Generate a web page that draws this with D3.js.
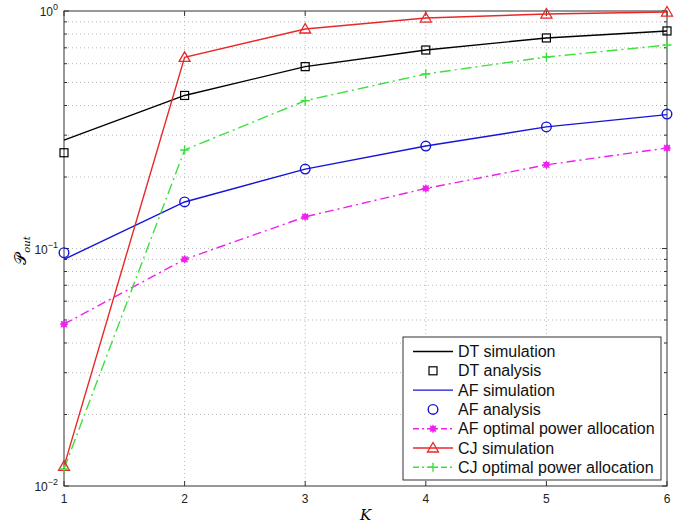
<!DOCTYPE html>
<html>
<head>
<meta charset="utf-8">
<script src="https://cdn.jsdelivr.net/npm/d3@7"></script>
<style>
  body { margin: 0; background: #fff; }
  svg { display: block; font-family: "Liberation Sans", Arial, sans-serif; }
</style>
</head>
<body>
<div id="chart"></div>
<script>
// K values on the x axis
const K = [1, 2, 3, 4, 5, 6];

// outage probability
const dtSimulation = [0.286, 0.441, 0.583, 0.685, 0.770, 0.824];
const dtAnalysis = [0.253, 0.441, 0.583, 0.685, 0.770, 0.824];
const afSimulation = [0.090, 0.157, 0.216, 0.270, 0.325, 0.366];
const afAnalysis = [0.096, 0.157, 0.216, 0.270, 0.325, 0.368];
const afOptimal = [0.048, 0.090, 0.136, 0.179, 0.225, 0.265];
const cjSimulation = [0.0121, 0.638, 0.840, 0.934, 0.971, 0.990];
const cjOptimal = [0.0118, 0.260, 0.419, 0.543, 0.640, 0.719];

const xTicks = [1, 2, 3, 4, 5, 6];
const yDecades = [0.01, 0.1, 1];
const yDecadeExp = ["-2", "-1", "0"];

const width = 687, height = 524;
const margin = { top: 11, right: 20, bottom: 38, left: 64 };

const svg = d3.select("#chart").append("svg")
	.attr("width", width)
	.attr("height", height);

const x = d3.scaleLinear().domain([1, 6]).range([margin.left, width - margin.right]);
const y = d3.scaleLog().domain([0.01, 1]).range([height - margin.bottom, margin.top]);

const x0 = x.range()[0], x1 = x.range()[1];
const y0 = y.range()[0], y1 = y.range()[1];

// minor log ticks (2..9 of each decade)
const yMinor = [];
[0.01, 0.1].forEach(d => { for (let m = 2; m <= 9; m++) yMinor.push(d * m); });

// dotted grid
const grid = svg.append("g")
	.attr("stroke", "#b8b8b8")
	.attr("stroke-width", 1)
	.attr("stroke-dasharray", "1,3");
grid.selectAll(".gx").data(xTicks.slice(1, -1)).join("line")
	.attr("x1", d => x(d)).attr("x2", d => x(d))
	.attr("y1", y0).attr("y2", y1);
grid.selectAll(".gy").data(yMinor.concat([0.1])).join("line")
	.attr("x1", x0).attr("x2", x1)
	.attr("y1", d => y(d)).attr("y2", d => y(d));

// ticks, inward on all sides (matlab box style)
const ticks = svg.append("g").attr("stroke", "#333").attr("stroke-width", 1);
xTicks.forEach(t => {
	ticks.append("line").attr("x1", x(t)).attr("x2", x(t)).attr("y1", y0).attr("y2", y0 - 5);
	ticks.append("line").attr("x1", x(t)).attr("x2", x(t)).attr("y1", y1).attr("y2", y1 + 5);
});
yMinor.concat(yDecades).forEach(t => {
	const len = yDecades.includes(t) ? 5 : 3;
	ticks.append("line").attr("x1", x0).attr("x2", x0 + len).attr("y1", y(t)).attr("y2", y(t));
	ticks.append("line").attr("x1", x1).attr("x2", x1 - len).attr("y1", y(t)).attr("y2", y(t));
});

// plot frame
svg.append("rect")
	.attr("x", x0).attr("y", y1)
	.attr("width", x1 - x0).attr("height", y0 - y1)
	.attr("fill", "none").attr("stroke", "#333").attr("stroke-width", 1);

// tick labels
svg.append("g").selectAll("text").data(xTicks).join("text")
	.attr("x", d => x(d)).attr("y", y0 + 17)
	.attr("text-anchor", "middle")
	.attr("font-size", 12)
	.attr("fill", "#222")
	.text(d => d);

const yl = svg.append("g").selectAll("text").data(yDecades).join("text")
	.attr("x", x0 - 6).attr("y", d => y(d) + 5)
	.attr("text-anchor", "end")
	.attr("font-size", 12)
	.attr("fill", "#222");
yl.append("tspan").text("10");
yl.append("tspan").attr("dy", -6).attr("font-size", 9).text((d, i) => yDecadeExp[i].replace("-", "\u2212"));

// axis titles
svg.append("text")
	.attr("x", (x0 + x1) / 2).attr("y", height - 4)
	.attr("text-anchor", "middle")
	.attr("font-family", "'DejaVu Serif', serif")
	.attr("font-style", "italic")
	.attr("font-size", 15)
	.text("K");

const ylab = svg.append("text")
	.attr("transform", `translate(26,${(y0 + y1) / 2 + 2}) rotate(-90)`)
	.attr("text-anchor", "middle")
	.attr("font-family", "'DejaVu Serif', serif")
	.attr("font-size", 16);
ylab.append("tspan").text("\u{1D4AB}");
ylab.append("tspan").attr("dy", 4).attr("font-size", 10).attr("font-style", "italic").text("out");

// series definitions
const series = [
	{ name: "DT simulation", values: dtSimulation, color: "#000000", line: true, dash: null, marker: null },
	{ name: "DT analysis", values: dtAnalysis, color: "#000000", line: false, dash: null, marker: "square" },
	{ name: "AF simulation", values: afSimulation, color: "#1515d8", line: true, dash: null, marker: null },
	{ name: "AF analysis", values: afAnalysis, color: "#1515d8", line: false, dash: null, marker: "circle" },
	{ name: "AF optimal power allocation", values: afOptimal, color: "#ee22ee", line: true, dash: "9,4,2,4", marker: "star" },
	{ name: "CJ simulation", values: cjSimulation, color: "#e82828", line: true, dash: null, marker: "triangle" },
	{ name: "CJ optimal power allocation", values: cjOptimal, color: "#3ee03e", line: true, dash: "11,4,2,4", marker: "plus" }
];

const lineGen = d3.line().x((d, i) => x(K[i])).y(d => y(d));

function drawMarker(g, type, cx, cy, color) {
	if (type === "square") {
		g.append("rect").attr("x", cx - 4).attr("y", cy - 4).attr("width", 8).attr("height", 8)
			.attr("fill", "none").attr("stroke", color).attr("stroke-width", 1.2);
	} else if (type === "circle") {
		g.append("circle").attr("cx", cx).attr("cy", cy).attr("r", 4.8)
			.attr("fill", "none").attr("stroke", color).attr("stroke-width", 1.4);
	} else if (type === "triangle") {
		g.append("path").attr("d", `M${cx},${cy - 5.5}L${cx + 5.5},${cy + 4}L${cx - 5.5},${cy + 4}Z`)
			.attr("fill", "none").attr("stroke", color).attr("stroke-width", 1.3);
	} else if (type === "plus") {
		g.append("path").attr("d", `M${cx - 4.5},${cy}H${cx + 4.5}M${cx},${cy - 4.5}V${cy + 4.5}`)
			.attr("stroke", color).attr("stroke-width", 1.4);
	} else if (type === "star") {
		g.append("circle").attr("cx", cx).attr("cy", cy).attr("r", 3)
			.attr("fill", color);
		g.append("path").attr("d", `M${cx - 4},${cy}H${cx + 4}M${cx},${cy - 4}V${cy + 4}M${cx - 3},${cy - 3}L${cx + 3},${cy + 3}M${cx - 3},${cy + 3}L${cx + 3},${cy - 3}`)
			.attr("stroke", color).attr("stroke-width", 1.2);
	}
}

const plot = svg.append("g");
series.forEach(s => {
	if (s.line) {
		plot.append("path")
			.attr("d", lineGen(s.values))
			.attr("fill", "none")
			.attr("stroke", s.color)
			.attr("stroke-width", 1.4)
			.attr("stroke-dasharray", s.dash);
	}
});
series.forEach(s => {
	if (!s.marker) return;
	const g = plot.append("g");
	s.values.forEach((v, i) => drawMarker(g, s.marker, x(K[i]), y(v), s.color));
});

// legend
const lg = svg.append("g");
lg.append("rect")
	.attr("x", 403).attr("y", 337).attr("width", 258).attr("height", 143)
	.attr("fill", "#fff").attr("stroke", "#333").attr("stroke-width", 1);
series.forEach((s, i) => {
	const cy = 351.5 + i * 19.3;
	if (s.line) {
		lg.append("line").attr("x1", 413).attr("x2", 453).attr("y1", cy).attr("y2", cy)
			.attr("stroke", s.color).attr("stroke-width", 1.4).attr("stroke-dasharray", s.dash ? "6,3,2,3" : null);
	}
	if (s.marker) drawMarker(lg, s.marker, 433, cy, s.color);
	lg.append("text")
		.attr("x", 458).attr("y", cy + 5.5)
		.attr("font-size", 16)
		.attr("fill", "#111")
		.text(s.name);
});
</script>
</body>
</html>
